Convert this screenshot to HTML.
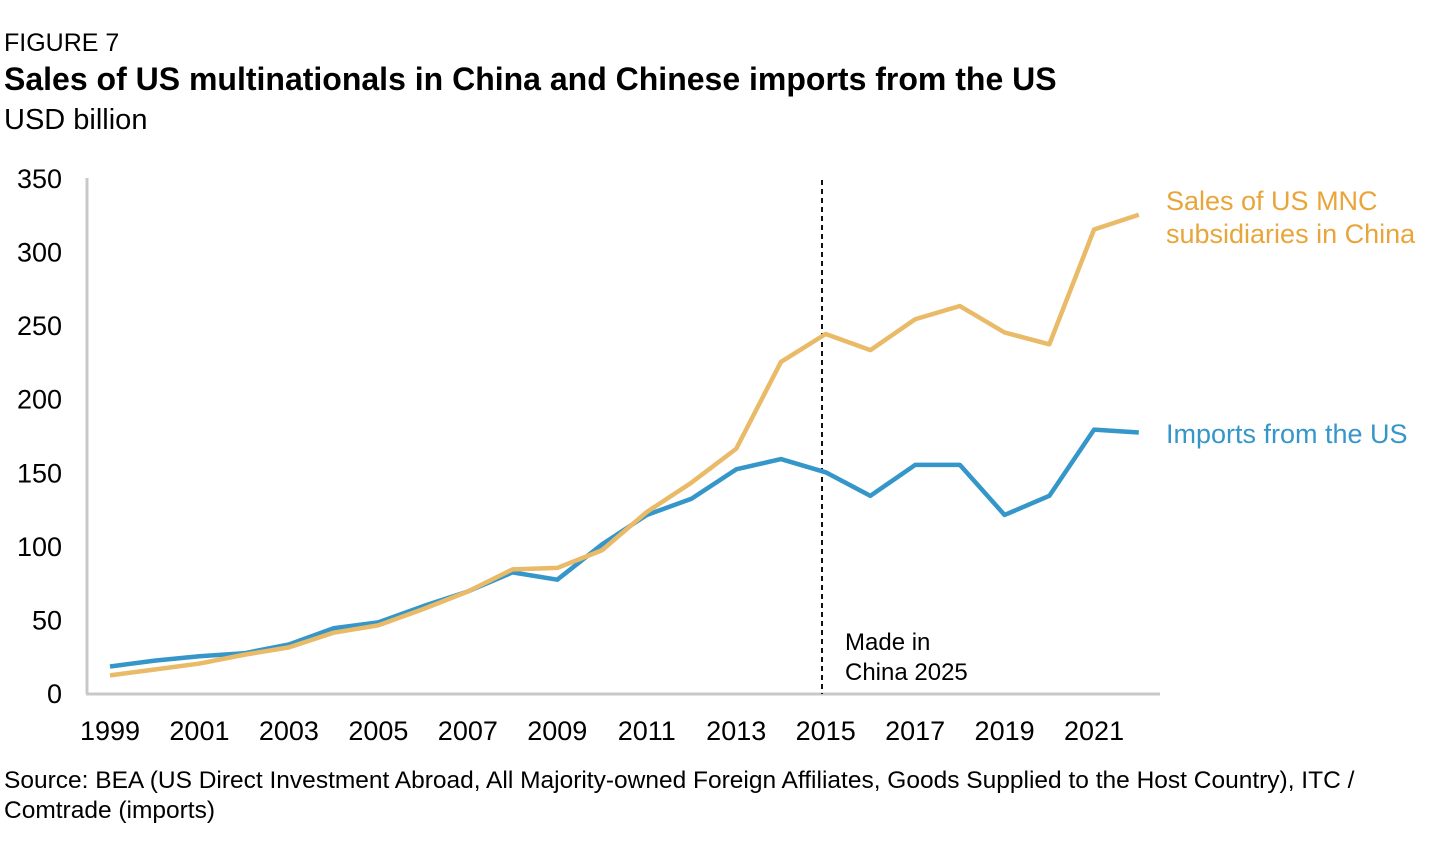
<!DOCTYPE html>
<html><head><meta charset="utf-8"><style>
body{margin:0;width:1450px;height:856px;background:#fff;font-family:"Liberation Sans",sans-serif;color:#111;overflow:hidden}
</style></head><body>
<svg width="1450" height="856">
<text x="4" y="51" font-size="25">FIGURE 7</text>
<text x="4" y="90" font-size="32" font-weight="bold">Sales of US multinationals in China and Chinese imports from the US</text>
<text x="4" y="129" font-size="29">USD billion</text>
<line x1="87" y1="178" x2="87" y2="694" stroke="#c8c8c8" stroke-width="3"/>
<line x1="86" y1="694" x2="1160" y2="694" stroke="#c8c8c8" stroke-width="3"/>
<g id="yt"></g><g id="xt"></g>
<line x1="822" y1="180" x2="822" y2="694" stroke="#111" stroke-width="2" stroke-dasharray="5,4"/>
<text x="845" y="650" font-size="24">Made in</text>
<text x="845" y="680" font-size="24">China 2025</text>
<path id="imp" fill="none" stroke="#3596c9" stroke-width="4.5" stroke-linejoin="round"/>
<path id="sal" fill="none" stroke="#e9ba67" stroke-width="4.5" stroke-linejoin="round"/>
<text x="1166" y="210" font-size="27" fill="#e8a53a">Sales of US MNC</text>
<text x="1166" y="243" font-size="27" fill="#e8a53a">subsidiaries in China</text>
<text x="1166" y="443" font-size="27" fill="#3596c9">Imports from the US</text>
<text x="4" y="788" font-size="24.5">Source: BEA (US Direct Investment Abroad, All Majority-owned Foreign Affiliates, Goods Supplied to the Host Country), ITC /</text>
<text x="4" y="818" font-size="24.5">Comtrade (imports)</text>
</svg>
<script>
const years=[1999,2000,2001,2002,2003,2004,2005,2006,2007,2008,2009,2010,2011,2012,2013,2014,2015,2016,2017,2018,2019,2020,2021,2022];
const imports=[18,22,25,27,33,44,48,59,69,82,77,101,121,132,152,159,150,134,155,155,121,134,179,177];
const sales=[12,16,20,26,31,41,46,57,69,84,85,97,123,143,166,225,244,233,254,263,245,237,315,325];
const yTicks=[0,50,100,150,200,250,300,350];
const xTicks=[1999,2001,2003,2005,2007,2009,2011,2013,2015,2017,2019,2021];
const xs=y=>110+(y-1999)*44.73;
const ys=v=>693-v*(515/350);
const ns="http://www.w3.org/2000/svg";
function line(id,vals){document.getElementById(id).setAttribute('d',vals.map((v,i)=>(i?'L':'M')+xs(years[i])+','+ys(v)).join(''));}
line('imp',imports);line('sal',sales);
const yt=document.getElementById('yt');
yTicks.forEach(t=>{const e=document.createElementNS(ns,'text');e.setAttribute('x',62);e.setAttribute('y',ys(t)+10);e.setAttribute('text-anchor','end');e.setAttribute('font-size','27');e.textContent=t;


yt.appendChild(e);});
const xt=document.getElementById('xt');
xTicks.forEach(t=>{const e=document.createElementNS(ns,'text');e.setAttribute('x',xs(t));e.setAttribute('y',740);e.setAttribute('text-anchor','middle');e.setAttribute('font-size','27');e.textContent=t;


xt.appendChild(e);});
</script>
</body></html>
